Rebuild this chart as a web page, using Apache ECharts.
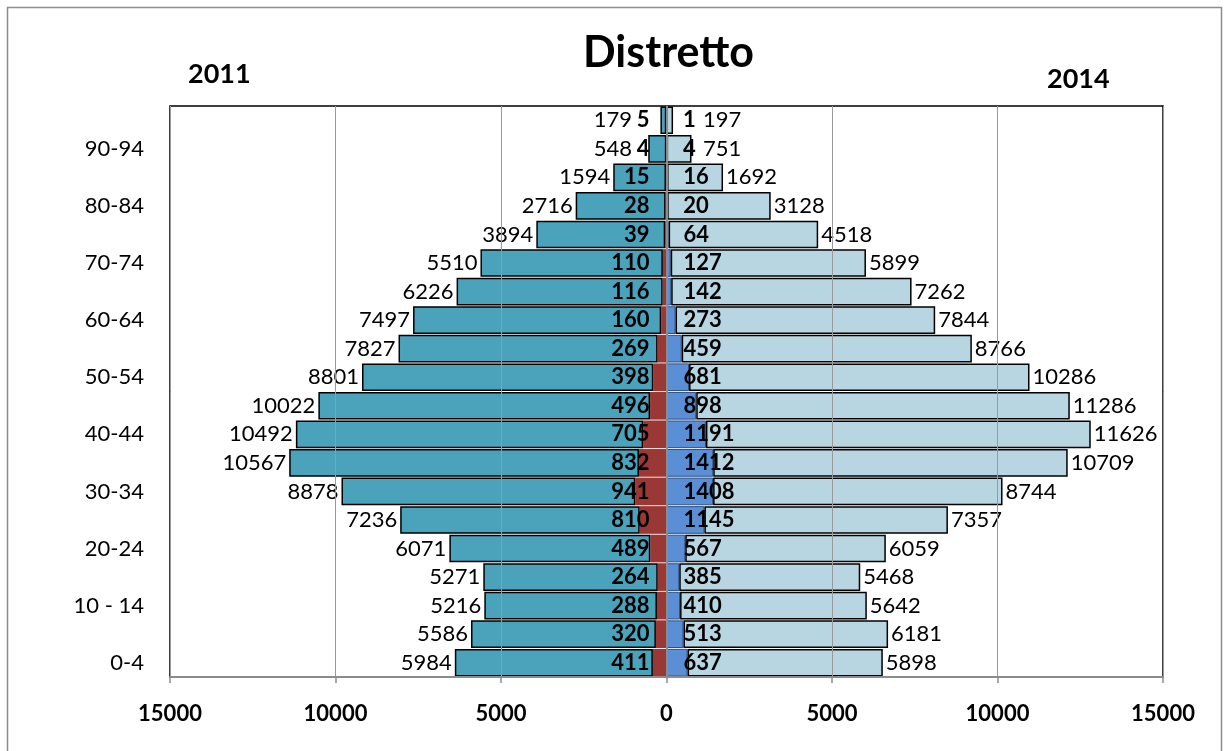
<!DOCTYPE html>
<html>
<head>
<meta charset="utf-8">
<title>Distretto</title>
<script src="https://cdn.jsdelivr.net/npm/echarts@6/dist/echarts.min.js"></script>
<style>
  html, body { margin: 0; padding: 0; background: #ffffff; }
  #chart { width: 1224px; height: 751px; }
</style>
</head>
<body>
<div id="chart"></div>
<script>
// Age classes, bottom to top
const ageClasses = ['0-4', '5-9', '10 - 14', '15-19', '20-24', '25-29', '30-34', '35-39',
  '40-44', '45-49', '50-54', '55-59', '60-64', '65-69', '70-74', '75-79', '80-84',
  '85-89', '90-94', '95+'];

// 2011 (left side)
const total2011 = [5984, 5586, 5216, 5271, 6071, 7236, 8878, 10567, 10492, 10022,
  8801, 7827, 7497, 6226, 5510, 3894, 2716, 1594, 548, 179];
const part2011 = [411, 320, 288, 264, 489, 810, 941, 832, 705, 496,
  398, 269, 160, 116, 110, 39, 28, 15, 4, 5];

// 2014 (right side)
const total2014 = [5898, 6181, 5642, 5468, 6059, 7357, 8744, 10709, 11626, 11286,
  10286, 8766, 7844, 7262, 5899, 4518, 3128, 1692, 751, 197];
const part2014 = [637, 513, 410, 385, 567, 1145, 1408, 1412, 1191, 898,
  681, 459, 273, 142, 127, 64, 20, 16, 4, 1];

const xTicks = [-15000, -10000, -5000, 0, 5000, 10000, 15000];

const FONT = 'Lato, "Open Sans", sans-serif';
const neg = arr => arr.map(v => -v);
const absLabel = p => String(Math.abs(p.value));

const chart = echarts.init(document.getElementById('chart'), null, { renderer: 'canvas' });

const option = {
  backgroundColor: '#ffffff',
  animation: false,
  title: {
    text: 'Distretto',
    left: 578,
    top: 27,
    textStyle: { fontFamily: FONT, fontSize: 43, fontWeight: 'bold', color: '#000' }
  },
  graphic: [
    {
      type: 'rect', silent: true, z: -10,
      shape: { x: 7.5, y: 7.5, width: 1214, height: 780 },
      style: { fill: 'none', stroke: '#8c8c8c', lineWidth: 1.5 }
    },
    {
      type: 'text', left: 188, top: 61,
      style: { text: '2011', font: 'bold 27px ' + FONT, fill: '#000' }
    },
    {
      type: 'text', left: 1047, top: 66,
      style: { text: '2014', font: 'bold 27px ' + FONT, fill: '#000' }
    }
  ],
  grid: {
    left: 170, right: 61, top: 106, bottom: 74,
    show: true, borderColor: '#000', borderWidth: 1.5, backgroundColor: '#fff'
  },
  xAxis: {
    type: 'value',
    min: xTicks[0], max: xTicks[xTicks.length - 1], interval: 5000,
    z: 3,
    axisLine: { show: true, onZero: false, lineStyle: { color: '#8c8c8c', width: 2 } },
    axisTick: { show: true, length: 6, lineStyle: { color: '#8c8c8c', width: 1.5 } },
    splitLine: { show: true, lineStyle: { color: '#9a9a9a', width: 1 } },
    axisLabel: {
      margin: 26,
      fontFamily: FONT, fontSize: 22, fontWeight: 'bold', color: '#000',
      formatter: v => String(Math.abs(v))
    }
  },
  yAxis: {
    type: 'category',
    data: ageClasses,
    axisLine: { show: false, onZero: false },
    axisTick: { show: false },
    splitLine: { show: false },
    axisLabel: {
      interval: 1, margin: 26,
      fontFamily: FONT, fontSize: 22, color: '#000'
    }
  },
  series: [
    {
      name: 'part2011', type: 'bar', stack: 'pyramid',
      data: neg(part2011),
      barCategoryGap: '3%',
      itemStyle: { color: '#9a3835', borderColor: '#9a3835', borderWidth: 0 },
      label: {
        show: true, position: 'insideRight', distance: 17,
        formatter: absLabel,
        fontFamily: FONT, fontSize: 22, fontWeight: 'bold', color: '#000'
      },
      markLine: {
        silent: true, symbol: 'none', z: 6,
        label: { show: false },
        lineStyle: { color: '#8c8c8c', width: 2, type: 'solid' },
        data: [{ xAxis: 0 }]
      }
    },
    {
      name: 'total2011', type: 'bar', stack: 'pyramid',
      data: neg(total2011),
      itemStyle: { color: '#4aa2bb', borderColor: '#000', borderWidth: 1.5 },
      label: {
        show: true, position: 'left', distance: 3,
        formatter: absLabel,
        fontFamily: FONT, fontSize: 22, color: '#000'
      },
      labelLayout: function (p) {
        const r = p.labelRect;
        const limit = 632;
        if (r.x + r.width > limit) return { dx: limit - (r.x + r.width) };
        return {};
      }
    },
    {
      name: 'part2014', type: 'bar', stack: 'pyramid',
      data: part2014.slice(),
      itemStyle: { color: '#5a8fd6', borderColor: '#2c4f80', borderWidth: 1 },
      label: {
        show: true, position: 'insideLeft', distance: 17,
        formatter: absLabel,
        fontFamily: FONT, fontSize: 22, fontWeight: 'bold', color: '#000'
      }
    },
    {
      name: 'total2014', type: 'bar', stack: 'pyramid',
      data: total2014.slice(),
      itemStyle: { color: '#b7d6e1', borderColor: '#000', borderWidth: 1.5 },
      label: {
        show: true, position: 'right', distance: 3,
        formatter: absLabel,
        fontFamily: FONT, fontSize: 22, color: '#000'
      },
      labelLayout: function (p) {
        const r = p.labelRect;
        const limit = 703;
        if (r.x < limit) return { dx: limit - r.x };
        return {};
      }
    }
  ]
};

chart.setOption(option);
</script>
</body>
</html>
